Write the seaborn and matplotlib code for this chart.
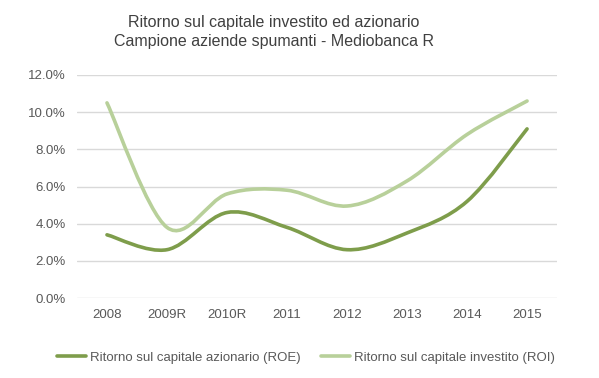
import matplotlib
matplotlib.use("Agg")
import matplotlib.pyplot as plt
from matplotlib.path import Path
from matplotlib.patches import PathPatch
from matplotlib.lines import Line2D
from matplotlib import font_manager
import seaborn as sns
import pandas as pd

anni = ['2008', '2009R', '2010R', '2011', '2012', '2013', '2014', '2015']
roe = [3.4, 2.6, 4.6, 3.8, 2.6, 3.5, 5.2, 9.1]
roi = [10.5, 3.8, 5.6, 5.8, 4.95, 6.3, 8.8, 10.6]
serie = ['Ritorno sul capitale azionario (ROE)', 'Ritorno sul capitale investito (ROI)']
colori = ['#7E9D4B', '#B8D09A']
yticks = [0, 2, 4, 6, 8, 10, 12]

sns.set_theme(style="white")
nomi = {f.name for f in font_manager.fontManager.ttflist}
font = 'Liberation Sans Narrow' if 'Liberation Sans Narrow' in nomi else 'Liberation Sans'
plt.rcParams['font.family'] = [font, 'DejaVu Sans']

df = pd.DataFrame({
    'pos': list(range(len(anni))) * 2,
    'val': roe + roi,
    'serie': [serie[0]] * len(anni) + [serie[1]] * len(anni),
})

fig = plt.figure(figsize=(5.99, 3.78), dpi=100)
ax = fig.add_axes([0.1285, 0.2116, 0.8015, 0.59])

sns.lineplot(data=df, x='pos', y='val', hue='serie', palette=colori,
             linewidth=2.6, ax=ax, legend=False)


def smooth_path(xs, ys):
    # curva liscia tipo Excel (Catmull-Rom -> Bezier)
    pts = list(zip(xs, ys))
    verts = [pts[0]]
    codes = [Path.MOVETO]
    n = len(pts)
    for i in range(n - 1):
        p0 = pts[i - 1] if i > 0 else pts[i]
        p1 = pts[i]
        p2 = pts[i + 1]
        p3 = pts[i + 2] if i + 2 < n else pts[i + 1]
        c1 = (p1[0] + (p2[0] - p0[0]) / 6, p1[1] + (p2[1] - p0[1]) / 6)
        c2 = (p2[0] - (p3[0] - p1[0]) / 6, p2[1] - (p3[1] - p1[1]) / 6)
        verts += [c1, c2, p2]
        codes += [Path.CURVE4] * 3
    return Path(verts, codes)


# le linee spezzate di seaborn restano nascoste, si disegna la versione liscia
for line in ax.lines:
    line.set_visible(False)

for vals, col in zip([roe, roi], colori):
    patch = PathPatch(smooth_path(range(len(anni)), vals), facecolor='none',
                      edgecolor=col, linewidth=2.6, capstyle='round', zorder=3)
    ax.add_patch(patch)

ax.set_xlim(-0.5, len(anni) - 0.5)
ax.set_ylim(0, 12)
ax.set_xticks(range(len(anni)))
ax.set_xticklabels(anni)
ax.set_yticks(yticks)
ax.set_yticklabels([f'{v:.1f}%' for v in yticks])
ax.tick_params(axis='both', labelsize=9.5, colors='#595959', length=0, pad=8)
ax.set_xlabel('')
ax.set_ylabel('')
ax.grid(axis='y', color='#D9D9D9', linewidth=1)
ax.set_axisbelow(True)
sns.despine(ax=ax, left=True, bottom=True)

handles = [Line2D([], [], color=c, linewidth=2.6) for c in colori]
fig.legend(handles, serie, loc='center', bbox_to_anchor=(306 / 599, 0.053), ncol=2,
           frameon=False, fontsize=9.5, labelcolor='#595959', handlelength=2.2,
           handletextpad=0.3, columnspacing=1.6)

fig.text(0.457, 0.915, 'Ritorno sul capitale investito ed azionario\nCampione aziende spumanti - Mediobanca R',
         ha='center', va='center', fontsize=11.5, color='#404040', linespacing=1.3)

fig.savefig('out.png', dpi=100)
